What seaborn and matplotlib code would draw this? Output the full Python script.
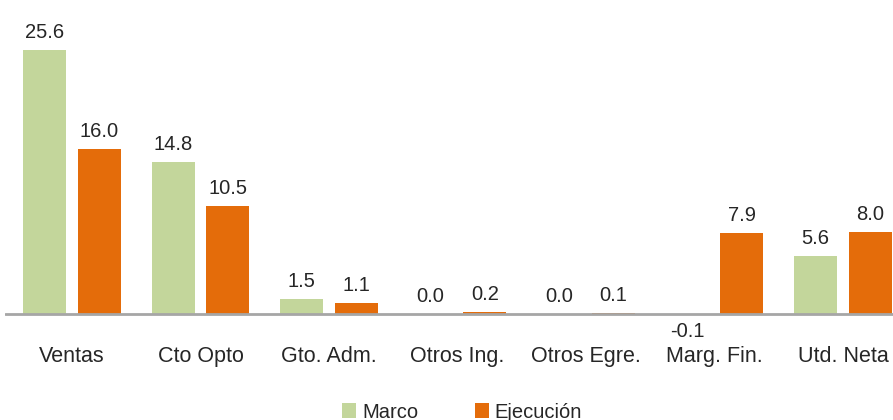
import matplotlib
matplotlib.use("Agg")
import matplotlib.pyplot as plt
import seaborn as sns
import pandas as pd

categories = ["Ventas", "Cto Opto", "Gto. Adm.", "Otros Ing.", "Otros Egre.", "Marg. Fin.", "Utd. Neta"]
marco = [25.6, 14.8, 1.5, 0.0, 0.0, -0.1, 5.6]
ejecucion = [16.0, 10.5, 1.1, 0.2, 0.1, 7.9, 8.0]
series_names = ["Marco", "Ejecución"]
colors = ["#c3d69b", "#e46c0a"]

df = pd.DataFrame({
    "cat": categories * 2,
    "serie": [series_names[0]] * len(categories) + [series_names[1]] * len(categories),
    "val": marco + ejecucion,
})

sns.set_style("white")
plt.rcParams["font.family"] = ["Liberation Sans", "DejaVu Sans"]

fig = plt.figure(figsize=(8.93, 4.2), dpi=100)
ax = fig.add_axes([5 / 893, (420 - 324) / 420, 888 / 893, 324 / 420])

sns.barplot(data=df, x="cat", y="val", hue="serie", palette=colors, order=categories,
            hue_order=series_names, width=0.85, gap=0.21, ax=ax, legend=True,
            saturation=1, errorbar=None, linewidth=0)

px_per_unit = 10.3
ax.set_ylim(-10 / px_per_unit, 314 / px_per_unit)
ax.set_xlim((5 - 72) / 128.5, (893 - 72) / 128.5)
ax.axhline(0, color="#a6a6a6", lw=2, zorder=3)

for container in ax.containers:
    for bar in container:
        h = bar.get_height()
        xc = bar.get_x() + bar.get_width() / 2
        if h < 0:
            ax.annotate(f"{h:.1f}", (xc, h), xytext=(0, -7), textcoords="offset pixels",
                        ha="center", va="top", fontsize=14.5, color="#262626")
        else:
            ax.annotate(f"{h:.1f}", (xc, h), xytext=(0, 8), textcoords="offset pixels",
                        ha="center", va="bottom", fontsize=14.5, color="#262626")

for s in ax.spines.values():
    s.set_visible(False)
ax.set_yticks([])
ax.set_xlabel("")
ax.set_ylabel("")
ax.tick_params(axis="x", length=0, pad=16, labelsize=15.5, labelcolor="#262626")

ax.legend_.remove()
handles, labels = ax.get_legend_handles_labels()
fig.legend(handles, labels, loc="center", bbox_to_anchor=(462 / 893, 8 / 420), ncol=2,
           frameon=False, fontsize=14.5, handlelength=0.7, handleheight=0.7,
           handletextpad=0.3, columnspacing=2.8, labelcolor="#262626")

fig.savefig("out.png", dpi=100)
